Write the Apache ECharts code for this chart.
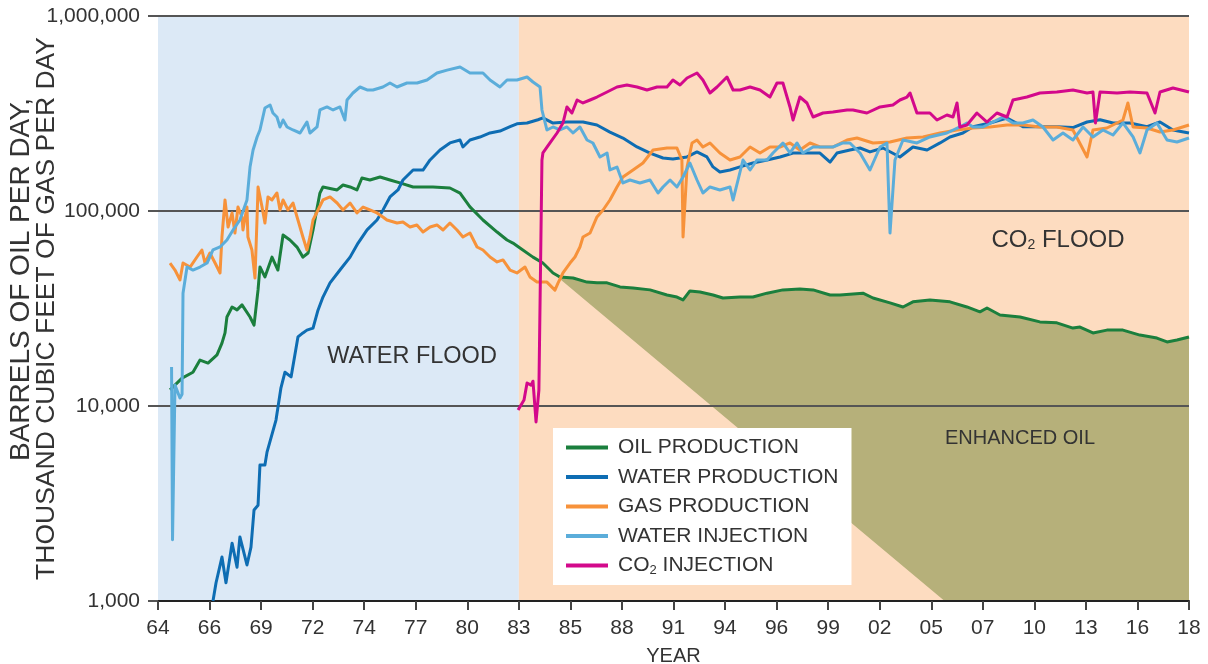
<!DOCTYPE html>
<html><head><meta charset="utf-8">
<script src="https://cdn.jsdelivr.net/npm/echarts@6/dist/echarts.min.js"></script>
<style>html,body{margin:0;padding:0;background:#fff}#c{width:1208px;height:664px}</style>
</head><body><div id="c"></div>
<script>
// ---------- axis definitions ----------
const X_LABELS = ['64','66','69','72','74','77','80','83','85','88','91','94','96','99','02','05','07','10','13','16','18'];
const X_START = 1964, X_END = 2018, X_STEP = 2.7;
const Y_MIN = 1000, Y_MAX = 1000000;
const PHASES = [[1964, 1982.9, 'water'], [1982.9, 2018, 'co2']];
const SERIES_NAMES = ['OIL PRODUCTION','WATER PRODUCTION','GAS PRODUCTION','WATER INJECTION','CO2 INJECTION'];
const Y_TITLE = ['BARRELS OF OIL PER DAY,', 'THOUSAND CUBIC FEET OF GAS PER DAY'];

// ---------- series values: [year, barrels or Mcf per day] ----------
const OIL = [[1964.63,12100],[1965.26,13900],[1965.83,14900],[1966.20,17200],[1966.62,16600],[1967.09,18300],[1967.35,21000],[1967.51,23700],[1967.61,28600],[1967.88,32200],[1968.14,31100],[1968.40,33000],[1968.82,28600],[1969.03,26000],[1969.24,39400],[1969.34,51600],[1969.60,45900],[1969.97,58000],[1970.28,49800],[1970.55,75300],[1970.91,71000],[1971.28,65300],[1971.59,58000],[1971.86,60900],[1972.12,80000],[1972.48,123600],[1972.64,132800],[1973.38,128200],[1973.69,135900],[1974.06,132800],[1974.42,128200],[1974.68,147600],[1975.10,144200],[1975.63,149400],[1976.15,144200],[1976.67,139300],[1977.36,132800],[1978.40,132800],[1979.29,131200],[1979.82,123600],[1980.34,105000],[1981.02,89900],[1981.76,78000],[1982.28,71000],[1982.59,68500],[1982.96,64600],[1983.64,58000],[1984.16,54100],[1984.69,48100],[1985.05,45900],[1985.74,45300],[1986.47,43200],[1986.99,42800],[1987.52,42800],[1988.20,40800],[1988.88,40300],[1989.77,39400],[1990.66,37100],[1991.18,36200],[1991.50,35000],[1991.86,38900],[1992.39,38400],[1993.07,37100],[1993.59,35800],[1994.48,36200],[1995.16,36200],[1995.90,37900],[1996.73,39400],[1997.62,39800],[1998.31,39400],[1999.20,37100],[1999.72,37100],[2000.92,37900],[2001.45,35800],[2002.34,33800],[2003.02,32200],[2003.54,34200],[2004.43,35000],[2005.48,34200],[2006.37,32200],[2007.05,30400],[2007.42,31800],[2008.10,29300],[2009.15,28600],[2010.19,27000],[2011.08,26700],[2011.92,25100],[2012.29,25400],[2012.97,23700],[2013.70,24500],[2014.54,24500],[2015.43,23100],[2016.32,22300],[2016.85,21300],[2017.37,21800],[2018.0,22600]];

const WATER_PROD = [[1966.88,1000],[1967.04,1240],[1967.35,1680],[1967.56,1240],[1967.88,1980],[1968.14,1490],[1968.29,2130],[1968.66,1530],[1968.87,1890],[1969.03,2930],[1969.24,3100],[1969.34,4980],[1969.60,4980],[1969.71,5800],[1970.18,8470],[1970.44,12400],[1970.65,14900],[1970.97,14100],[1971.33,22600],[1971.59,23700],[1971.80,24500],[1972.12,25100],[1972.38,31000],[1972.64,36200],[1973.01,42800],[1973.53,49800],[1974.06,58000],[1974.48,68500],[1974.95,80000],[1975.47,89900],[1975.78,101000],[1976.15,118000],[1976.57,128200],[1976.83,144200],[1977.36,162200],[1977.88,162200],[1978.25,182700],[1978.77,205600],[1979.29,223400],[1979.82,231400],[1979.97,213000],[1980.34,231400],[1980.86,239500],[1981.39,251300],[1981.91,257000],[1982.44,270700],[1982.80,279900],[1983.33,282500],[1983.90,293700],[1984.16,300000],[1984.69,282500],[1985.42,286000],[1986.26,286000],[1986.99,276000],[1987.67,254000],[1988.35,236600],[1989.09,213000],[1989.77,198200],[1990.45,187000],[1990.97,184900],[1991.71,189300],[1992.23,200900],[1992.75,189300],[1993.07,168300],[1993.43,158500],[1993.96,162200],[1994.48,168300],[1995.16,176300],[1995.90,182700],[1996.58,189300],[1997.26,198200],[1997.99,198200],[1998.67,198200],[1999.20,178200],[1999.56,198200],[2000.24,205600],[2000.77,210400],[2001.29,200900],[2001.97,210400],[2002.86,189300],[2003.54,213000],[2004.28,205600],[2004.96,223400],[2005.48,239500],[2006.16,251300],[2006.69,270700],[2007.58,282500],[2008.47,300000],[2009.30,270700],[2010.19,270700],[2011.08,270700],[2011.92,267700],[2012.66,286000],[2013.34,293700],[2014.02,282500],[2014.91,282500],[2015.80,270700],[2016.48,286000],[2017.16,260200],[2018.0,251300]];

const GAS_PROD = [[1964.63,54100],[1964.89,49800],[1965.15,44300],[1965.31,54100],[1965.68,51600],[1966.04,58100],[1966.30,63100],[1966.46,54100],[1966.72,60900],[1966.99,54100],[1967.25,48100],[1967.35,73600],[1967.51,113900],[1967.67,82800],[1967.88,97700],[1968.03,77100],[1968.19,104800],[1968.40,93200],[1968.45,79900],[1968.66,104800],[1968.71,73600],[1968.92,63100],[1969.08,45300],[1969.19,93200],[1969.24,132800],[1969.45,104800],[1969.60,86800],[1969.76,118000],[1969.97,113900],[1970.23,123700],[1970.39,101200],[1970.55,113900],[1970.81,101200],[1971.07,109900],[1971.33,89900],[1971.59,73600],[1971.80,63100],[1971.96,73600],[1972.12,89900],[1972.38,101200],[1972.64,113900],[1973.01,118000],[1973.38,109900],[1973.69,101200],[1974.06,109900],[1974.42,97700],[1974.74,104800],[1975.10,101200],[1975.47,97700],[1975.78,93200],[1975.99,89900],[1976.52,86800],[1976.83,87800],[1977.20,82800],[1977.56,84800],[1977.88,78000],[1978.25,82800],[1978.61,84800],[1978.93,79900],[1979.29,86800],[1979.66,79900],[1979.97,73600],[1980.34,77100],[1980.71,65400],[1981.02,63100],[1981.39,58100],[1981.76,54800],[1982.07,56100],[1982.44,49800],[1982.80,48100],[1983.22,51600],[1983.48,45900],[1983.85,43200],[1984.37,43200],[1984.79,39300],[1984.95,42700],[1985.21,48100],[1985.58,54100],[1985.84,58100],[1986.10,65400],[1986.26,73600],[1986.63,77100],[1986.99,93200],[1987.31,101200],[1987.67,113900],[1988.04,132800],[1988.35,149400],[1988.88,162300],[1989.40,176300],[1989.93,205500],[1990.66,210400],[1991.18,210400],[1991.44,182600],[1991.50,73600],[1991.71,168100],[1991.97,223300],[1992.23,231300],[1992.54,212900],[1992.91,223300],[1993.43,198400],[1993.96,182600],[1994.48,189200],[1995.01,212900],[1995.53,198400],[1996.05,212900],[1996.58,212900],[1997.10,223300],[1997.62,205500],[1998.15,223300],[1998.67,212900],[1999.35,212900],[2000.09,231300],[2000.61,236800],[2001.45,223300],[2002.34,225900],[2003.23,236800],[2004.07,239700],[2004.96,251200],[2005.85,260300],[2006.69,266500],[2007.58,269700],[2008.47,276100],[2009.30,276100],[2010.19,269700],[2011.08,269700],[2011.92,260300],[2012.66,189200],[2012.97,260300],[2013.70,266500],[2014.54,292900],[2014.80,358000],[2015.07,269700],[2015.80,266500],[2016.48,254200],[2017.16,260300],[2018.0,276100]];

const WATER_INJ = [[1964.71,15850],[1964.76,2060],[1964.89,12800],[1965.15,11000],[1965.26,11500],[1965.31,37900],[1965.52,51600],[1965.83,49800],[1966.20,51600],[1966.57,54100],[1966.88,63100],[1967.25,65400],[1967.61,71000],[1967.93,79900],[1968.29,89900],[1968.66,113900],[1968.82,168100],[1968.98,205500],[1969.19,239700],[1969.34,260300],[1969.60,337600],[1969.87,349700],[1970.02,318100],[1970.23,303400],[1970.39,269700],[1970.55,292900],[1970.76,269700],[1971.07,260300],[1971.44,251200],[1971.80,286000],[1971.96,251200],[1972.33,269700],[1972.48,329600],[1972.85,341600],[1973.17,329600],[1973.53,341600],[1973.79,292900],[1973.90,370900],[1974.21,402800],[1974.58,432400],[1974.95,417400],[1975.26,417400],[1975.78,432400],[1976.15,453300],[1976.52,432400],[1977.04,453300],[1977.57,453300],[1978.09,469600],[1978.61,510300],[1979.14,528000],[1979.82,547600],[1980.34,510300],[1981.02,510300],[1981.39,469600],[1981.91,432400],[1982.28,469600],[1982.80,469600],[1983.33,486600],[1983.64,458700],[1984.01,432400],[1984.11,329600],[1984.37,260300],[1984.69,269700],[1985.05,260300],[1985.42,269700],[1985.74,251200],[1986.10,269700],[1986.47,231300],[1986.78,223300],[1987.15,189200],[1987.52,198400],[1987.67,162300],[1988.04,168100],[1988.35,139200],[1988.72,144200],[1989.24,139200],[1989.77,144200],[1990.19,123700],[1990.45,132800],[1990.82,144200],[1991.18,132800],[1991.50,149400],[1991.86,176300],[1992.23,144200],[1992.54,123700],[1992.91,132800],[1993.43,128200],[1993.96,132800],[1994.12,113900],[1994.38,144200],[1994.64,182600],[1995.01,162300],[1995.37,182600],[1995.90,182600],[1996.21,198400],[1996.73,223300],[1997.10,198400],[1997.47,223300],[1997.78,198400],[1998.31,212900],[1998.83,212900],[1999.35,212900],[1999.88,223300],[2000.24,223300],[2000.77,198400],[2001.29,162300],[2001.82,212900],[2002.18,223300],[2002.34,77100],[2002.60,182600],[2003.02,231300],[2003.75,223300],[2004.43,239700],[2005.32,251200],[2006.00,269700],[2006.37,282700],[2006.69,269700],[2007.21,269700],[2007.73,286000],[2008.26,303400],[2008.78,282700],[2009.30,282700],[2009.83,292900],[2010.35,269700],[2010.88,231300],[2011.40,251200],[2011.92,231300],[2012.45,269700],[2012.97,239700],[2013.49,260300],[2014.02,245400],[2014.54,282700],[2015.07,239700],[2015.43,198400],[2015.80,260300],[2016.32,282700],[2016.85,231300],[2017.37,225900],[2018.0,236800]];

const CO2_INJ = [[1982.86,9530],[1983.17,10740],[1983.33,13120],[1983.54,12800],[1983.64,13400],[1983.80,8280],[1983.95,12080],[1984.11,182600],[1984.16,198400],[1984.53,223300],[1984.90,251200],[1985.21,282700],[1985.42,341600],[1985.68,318100],[1985.95,370900],[1986.26,358000],[1986.63,370900],[1986.99,384200],[1987.52,407600],[1988.04,432400],[1988.56,442800],[1989.09,432400],[1989.61,417400],[1990.14,432400],[1990.66,432400],[1990.97,469600],[1991.34,442800],[1991.71,481000],[1992.23,510300],[1992.54,469600],[1992.91,402800],[1993.28,432400],[1993.80,486600],[1994.12,417400],[1994.48,417400],[1995.01,432400],[1995.53,417400],[1996.05,384200],[1996.42,453300],[1996.73,453300],[1997.10,341600],[1997.26,292900],[1997.62,384200],[1997.99,358000],[1998.31,303400],[1998.83,318100],[1999.35,321900],[2000.09,329600],[2000.40,329600],[2001.13,318100],[2001.82,341600],[2002.49,349700],[2002.86,370900],[2003.23,384200],[2003.39,402800],[2003.75,318100],[2004.43,318100],[2004.80,292900],[2005.32,310700],[2005.64,303400],[2005.85,358000],[2006.00,269700],[2006.37,276100],[2006.89,318100],[2007.42,286000],[2007.94,318100],[2008.47,303400],[2008.78,370900],[2009.51,384200],[2010.19,402800],[2011.08,407600],[2011.92,417400],[2012.66,402800],[2012.97,407600],[2013.10,282700],[2013.34,407600],[2014.23,402800],[2014.91,407600],[2015.80,402800],[2016.22,318100],[2016.48,407600],[2017.16,427300],[2018.0,407600]];

// enhanced oil wedge: starts on the oil curve, baseline falls to the axis floor
const ENH_START = [1984.8, 47000];
const ENH_BASE_END = [2005.2, 1000];

// ---------- chart ----------
const FONT = "'Liberation Sans', Arial, Helvetica, sans-serif";
const TXT = '#333333';
const COLORS = ['#1b7f3d', '#0e6db3', '#f7923a', '#5badda', '#d3098b'];
const DATA = [OIL, WATER_PROD, GAS_PROD, WATER_INJ, CO2_INJ];

const chart = echarts.init(document.getElementById('c'), null, {renderer: 'canvas'});

const lineSeries = SERIES_NAMES.map((name, i) => ({
  name, type: 'line', data: DATA[i], showSymbol: false, symbol: 'none',
  lineStyle: {color: COLORS[i], width: 3, join: 'round'}, itemStyle: {color: COLORS[i]},
  z: 4, silent: true, clip: true
}));

const option = {
  animation: false,
  grid: {left: 158, right: 19, top: 16, bottom: 63, outerBoundsMode: 'none', containLabel: false},
  xAxis: {
    type: 'value', min: X_START, max: X_END, interval: X_STEP, z: 3,
    axisLine: {show: true, onZero: false, lineStyle: {color: '#222', width: 2}},
    axisTick: {show: true, length: 9, lineStyle: {color: '#444', width: 2}},
    axisLabel: {
      formatter: v => X_LABELS[Math.round((v - X_START) / X_STEP)] || '',
      fontSize: 21, color: TXT, margin: 17, fontFamily: FONT, showMinLabel: true, showMaxLabel: true
    },
    splitLine: {show: false},
    name: 'YEAR', nameLocation: 'middle', nameGap: 45, nameMoveOverlap: false,
    nameTextStyle: {fontSize: 20, color: TXT, fontFamily: FONT}
  },
  yAxis: {
    type: 'log', logBase: 10, min: Y_MIN, max: Y_MAX, z: 3,
    axisLine: {show: false},
    axisTick: {show: true, length: 10, lineStyle: {color: '#555', width: 2}},
    axisLabel: {formatter: v => Math.round(v).toLocaleString('en-US'), fontSize: 21, color: TXT, margin: 18, fontFamily: FONT},
    splitLine: {show: true, lineStyle: {color: '#555', width: 2}},
    name: '{a|' + Y_TITLE[0] + '}\n{b|' + Y_TITLE[1] + '}',
    nameLocation: 'middle', nameRotate: 90, nameGap: 98, nameMoveOverlap: false,
    nameTextStyle: {fontSize: 26, lineHeight: 26, color: TXT, fontFamily: FONT,
      rich: {
        a: {fontSize: 28, lineHeight: 26, color: TXT, fontFamily: FONT, padding: [0, 0, 0, 58]},
        b: {fontSize: 26.5, lineHeight: 26, color: TXT, fontFamily: FONT}
      }}
  },
  legend: {
    data: SERIES_NAMES, orient: 'vertical', left: 553, top: 428,
    backgroundColor: '#ffffff', padding: [9, 13, 8, 13],
    itemWidth: 42, itemHeight: 4, itemGap: 8.5, icon: 'rect', z: 10,
    selectedMode: false,
    textStyle: {
      fontSize: 21, lineHeight: 20, color: TXT, fontFamily: FONT, padding: [0, 0, 0, 5],
      rich: {sub: {fontSize: 13, fontFamily: FONT, color: TXT, padding: [10, 0, 0, 0]}}
    },
    formatter: n => n.replace('CO2', 'CO{sub|2}')
  },
  graphic: [
    {type: 'text', x: 412, y: 357, z: 10, style: {text: 'WATER FLOOD', fill: TXT, fontSize: 23.5, fontFamily: FONT, align: 'center', verticalAlign: 'middle'}},
    {type: 'text', x: 1058, y: 240, z: 10, style: {text: 'CO{sub|2} FLOOD', fill: TXT, fontSize: 24, fontFamily: FONT, align: 'center', verticalAlign: 'middle',
      rich: {sub: {fontSize: 14, fontFamily: FONT, fill: TXT, padding: [11, 0, 0, 0]}}}},
    {type: 'text', x: 1020, y: 438, z: 10, style: {text: 'ENHANCED OIL', fill: TXT, fontSize: 20, fontFamily: FONT, align: 'center', verticalAlign: 'middle'}}
  ],
  series: [
    {
      type: 'custom', name: 'phases', z: 1, silent: true, data: PHASES, encode: {x: [0, 1]},
      renderItem: (params, api) => {
        const p = PHASES[params.dataIndex];
        const a = api.coord([p[0], Y_MAX]);
        const b = api.coord([p[1], Y_MIN]);
        return {type: 'rect', shape: {x: a[0], y: a[1], width: b[0] - a[0], height: b[1] - a[1]},
          style: {fill: p[2] === 'water' ? '#dce9f6' : '#fddcc0'}};
      }
    },
    {
      type: 'custom', name: 'enhanced', z: 2, silent: true, data: [ENH_START], encode: {x: 0, y: 1},
      renderItem: (params, api) => {
        const top = [ENH_START].concat(OIL.filter(p => p[0] > ENH_START[0]));
        const pts = top.map(p => api.coord(p));
        pts.push(api.coord([X_END, Y_MIN]));
        pts.push(api.coord(ENH_BASE_END));
        return {type: 'polygon', shape: {points: pts}, style: {fill: '#b6b07a'}};
      }
    }
  ].concat(lineSeries)
};
chart.setOption(option);
</script>
</body></html>
